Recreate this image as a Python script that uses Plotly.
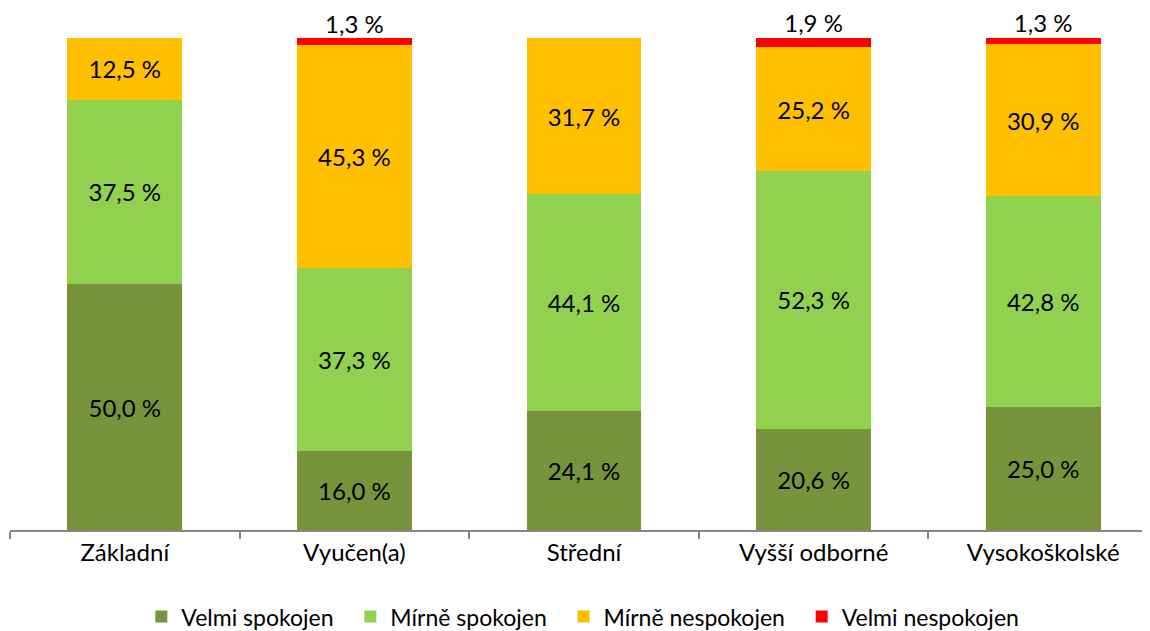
import plotly.graph_objects as go

kategorie = ["Základní", "Vyučen(a)", "Střední", "Vyšší odborné", "Vysokoškolské"]
velmi_spokojen = [50.0, 16.0, 24.1, 20.6, 25.0]
mirne_spokojen = [37.5, 37.3, 44.1, 52.3, 42.8]
mirne_nespokojen = [12.5, 45.3, 31.7, 25.2, 30.9]
velmi_nespokojen = [0.0, 1.3, 0.0, 1.9, 1.3]

serie = [
    ("Velmi spokojen", velmi_spokojen, "#77933C"),
    ("Mírně spokojen", mirne_spokojen, "#92D050"),
    ("Mírně nespokojen", mirne_nespokojen, "#FFC000"),
    ("Velmi nespokojen", velmi_nespokojen, "#FF0000"),
]

FONT = "Lato, Carlito, sans-serif"
SIZE = 24


def fmt(v):
    return f"{v:.1f} %".replace(".", ",") if v > 0 else ""


fig = go.Figure()
for i, (name, vals, color) in enumerate(serie):
    top = i == len(serie) - 1
    fig.add_trace(
        go.Bar(
            x=kategorie,
            y=vals,
            # mezery za názvem jen kvůli rozestupům v legendě
            name=name if top else name + "\u00a0\u00a0",
            marker=dict(color=color, line=dict(width=0)),
            text=None if top else [fmt(v) for v in vals],
            textposition="inside",
            insidetextanchor="middle",
            textfont=dict(family=FONT, size=SIZE, color="black"),
            hoverinfo="skip",
        )
    )

# popisky malých červených segmentů nad sloupci
soucty = [sum(v) for v in zip(*(s[1] for s in serie))]
fig.add_trace(
    go.Scatter(
        x=kategorie,
        y=soucty,
        mode="text",
        text=[fmt(v) for v in velmi_nespokojen],
        textposition="top center",
        textfont=dict(family=FONT, size=SIZE, color="black"),
        showlegend=False,
        cliponaxis=False,
        hoverinfo="skip",
    )
)

# stránka má okraj 8 px, proto jsou okraje grafu o tolik menší
fig.update_layout(
    barmode="stack",
    bargap=0.5,
    width=1150,
    height=631,
    margin=dict(l=2, r=0, t=30, b=109, autoexpand=False),
    plot_bgcolor="white",
    paper_bgcolor="white",
    font=dict(family=FONT, size=SIZE, color="black"),
    uniformtext=dict(minsize=SIZE, mode="show"),
    showlegend=True,
    legend=dict(
        orientation="h",
        x=0.499,
        xanchor="center",
        y=-0.176,
        yanchor="middle",
        font=dict(family=FONT, size=23),
        itemwidth=30,
        traceorder="normal",
    ),
)
fig.update_xaxes(
    automargin=False,
    showline=True,
    linecolor="#868686",
    linewidth=1.5,
    ticks="outside",
    tickson="boundaries",
    ticklen=7,
    tickcolor="#868686",
    tickwidth=1.5,
    tickfont=dict(family=FONT, size=SIZE),
)
fig.update_yaxes(range=[0, 100], visible=False, automargin=False)

fig.write_html("out.html")
